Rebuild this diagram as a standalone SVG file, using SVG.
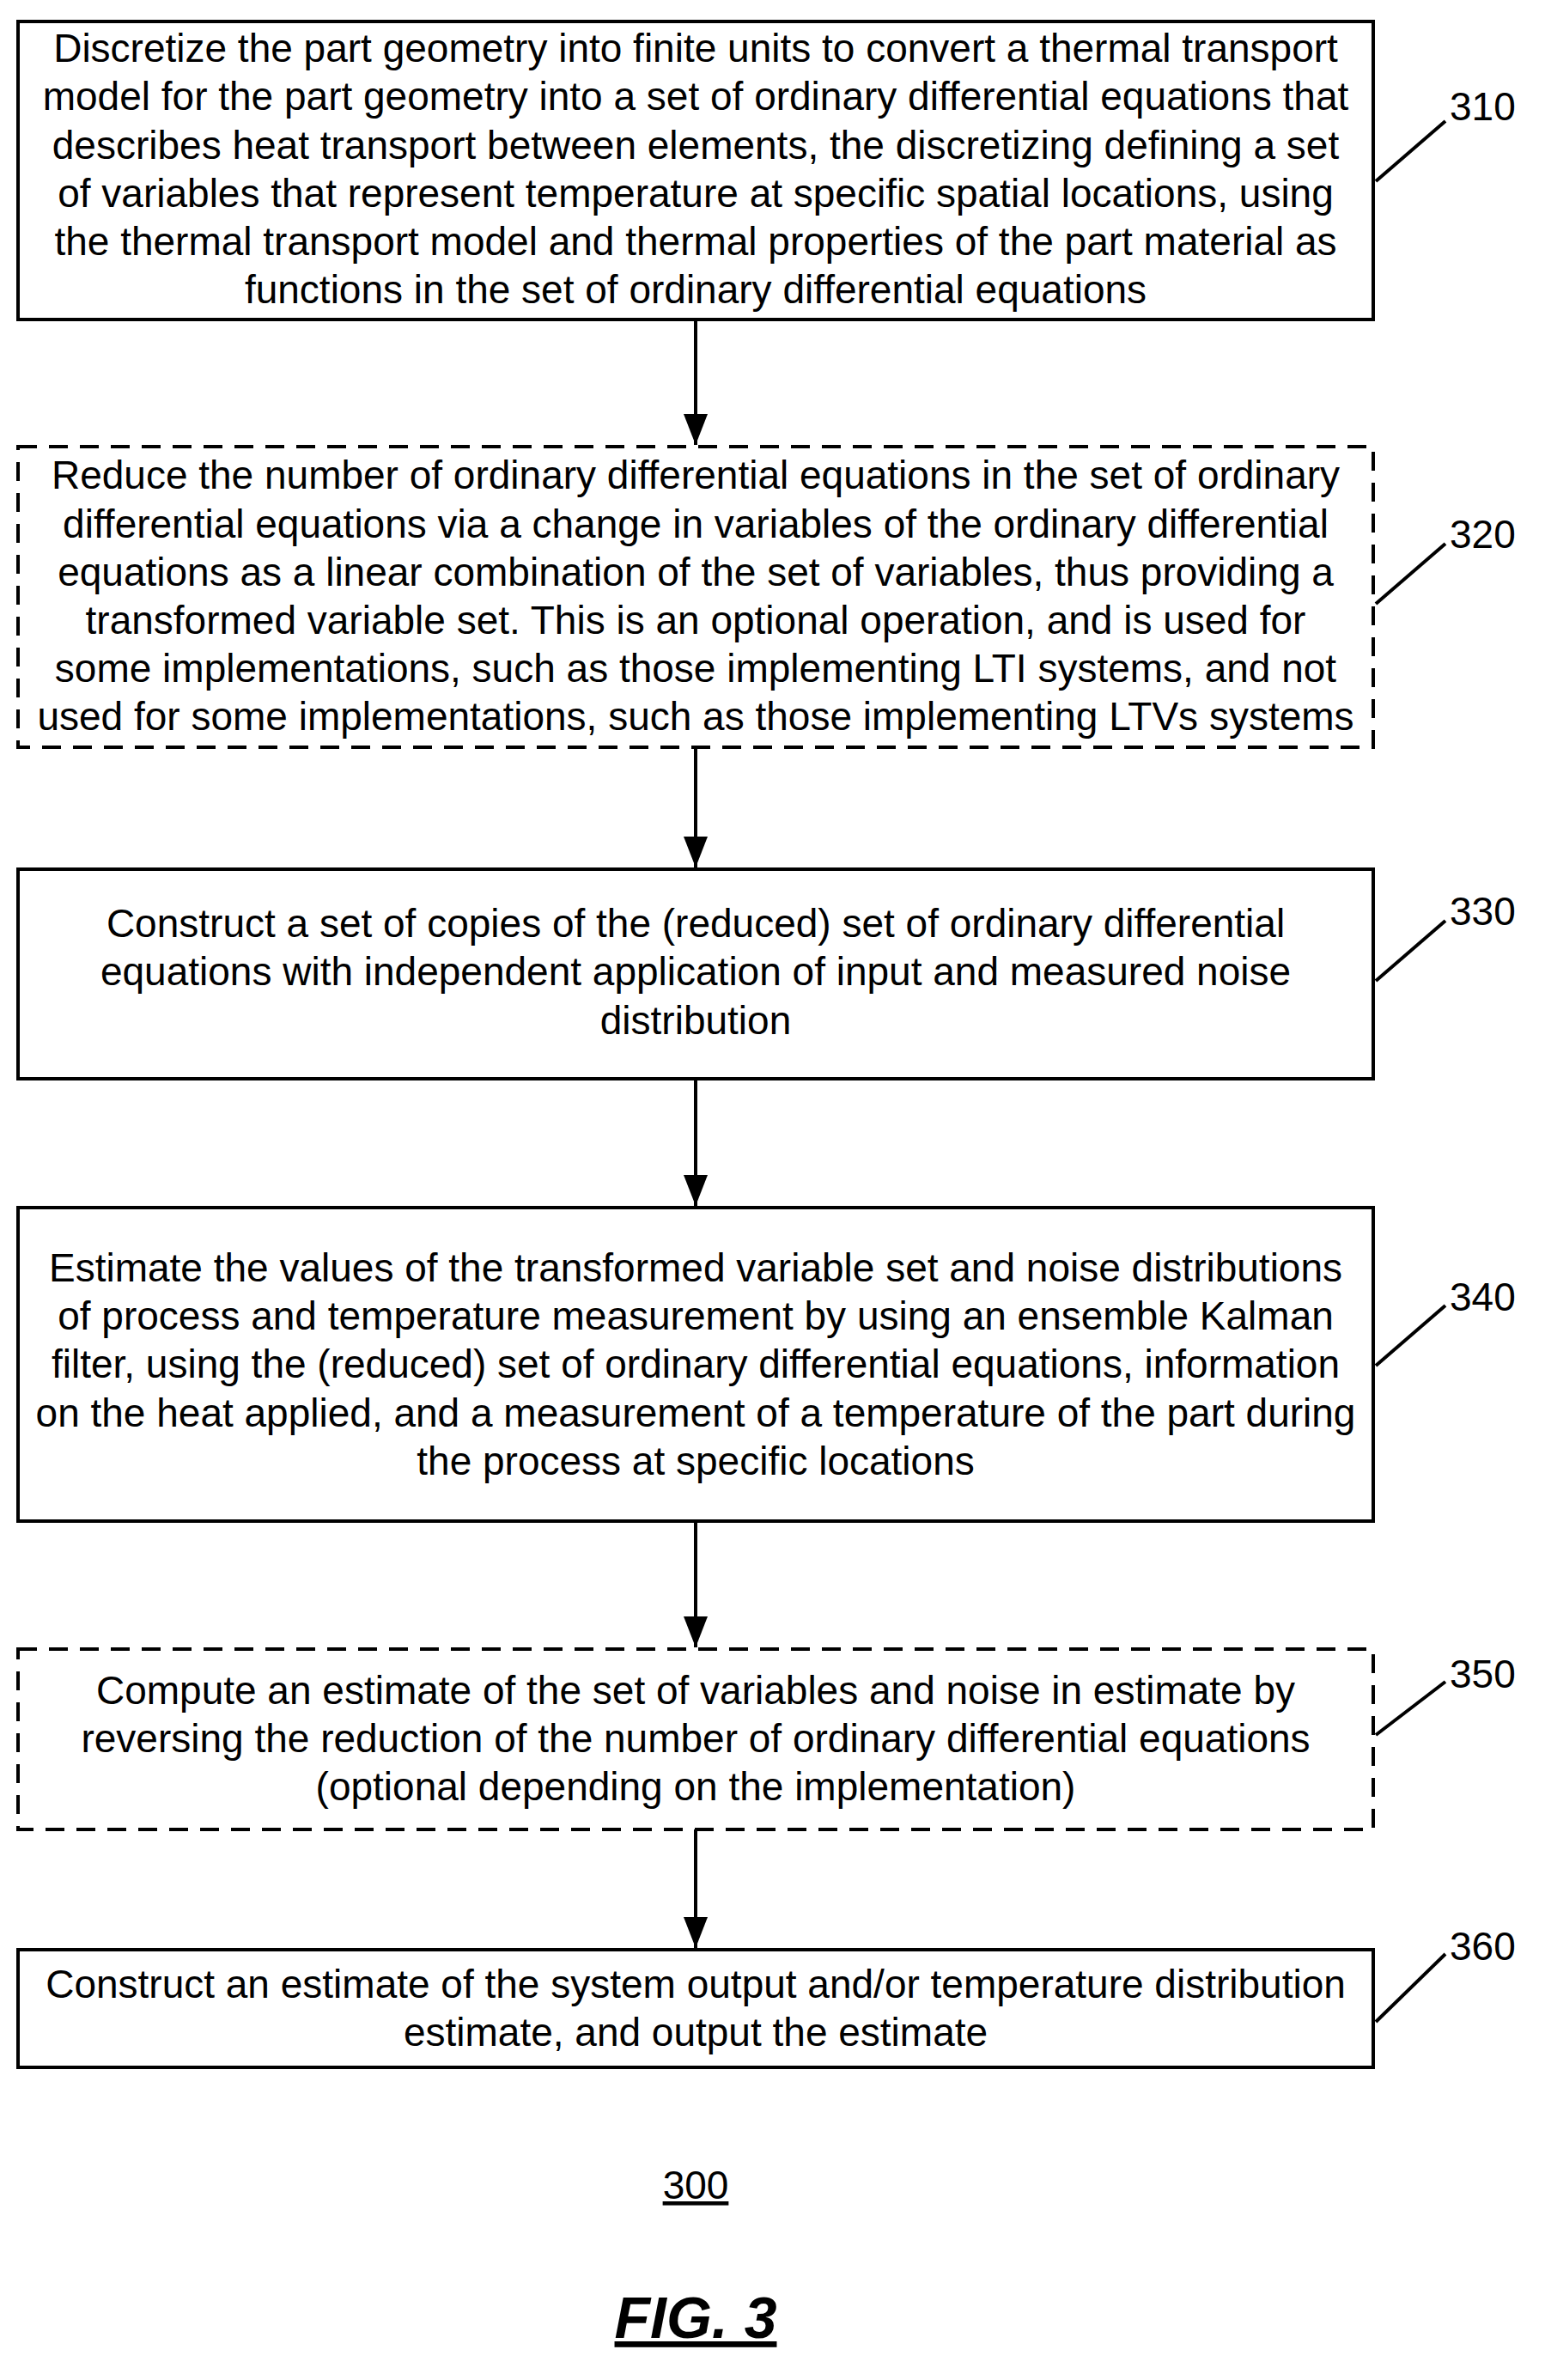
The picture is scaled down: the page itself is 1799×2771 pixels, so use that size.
<svg xmlns="http://www.w3.org/2000/svg" width="1799" height="2771" viewBox="0 0 1799 2771">
<defs>
<marker id="ah" viewBox="0 0 36 28" refX="36" refY="14" markerWidth="36" markerHeight="28" markerUnits="userSpaceOnUse" orient="auto"><path d="M0,0 L36,14 L0,28 Z" fill="#000"/></marker>
<style>
.b{fill:#fff;stroke:#000;stroke-width:4}
.d{stroke-dasharray:22,14}
text{font-family:"Liberation Sans",Arial,sans-serif;font-size:46px;fill:#000}
.t{text-anchor:middle}
.c{stroke:#000;stroke-width:4;fill:none}
</style>
</defs>
<rect width="1799" height="2771" fill="#fff"/>
<g id="connectors">
<line class="c" x1="810" y1="372" x2="810" y2="518" marker-end="url(#ah)"/>
<line class="c" x1="810" y1="870" x2="810" y2="1010" marker-end="url(#ah)"/>
<line class="c" x1="810" y1="1256" x2="810" y2="1404" marker-end="url(#ah)"/>
<line class="c" x1="810" y1="1771" x2="810" y2="1918" marker-end="url(#ah)"/>
<line class="c" x1="810" y1="2130" x2="810" y2="2268" marker-end="url(#ah)"/>
</g>
<g id="n310">
<rect class="b" x="21" y="25" width="1578" height="347"/>
<text class="t" x="810" y="72">Discretize the part geometry into finite units to convert a thermal transport</text>
<text class="t" x="810" y="128">model for the part geometry into a set of ordinary differential equations that</text>
<text class="t" x="810" y="185">describes heat transport between elements, the discretizing defining a set</text>
<text class="t" x="810" y="241">of variables that represent temperature at specific spatial locations, using</text>
<text class="t" x="810" y="297">the thermal transport model and thermal properties of the part material as</text>
<text class="t" x="810" y="353">functions in the set of ordinary differential equations</text>
<line class="c" x1="1602" y1="211" x2="1683" y2="141"/>
<text x="1688" y="140">310</text>
</g>
<g id="n320">
<rect class="b d" x="21" y="520" width="1578" height="350"/>
<text class="t" x="810" y="569">Reduce the number of ordinary differential equations in the set of ordinary</text>
<text class="t" x="810" y="626">differential equations via a change in variables of the ordinary differential</text>
<text class="t" x="810" y="682">equations as a linear combination of the set of variables, thus providing a</text>
<text class="t" x="810" y="738">transformed variable set. This is an optional operation, and is used for</text>
<text class="t" x="810" y="794">some implementations, such as those implementing LTI systems, and not</text>
<text class="t" x="810" y="850">used for some implementations, such as those implementing LTVs systems</text>
<line class="c" x1="1602" y1="703" x2="1683" y2="633"/>
<text x="1688" y="638">320</text>
</g>
<g id="n330">
<rect class="b" x="21" y="1012" width="1578" height="244"/>
<text class="t" x="810" y="1091">Construct a set of copies of the (reduced) set of ordinary differential</text>
<text class="t" x="810" y="1147">equations with independent application of input and measured noise</text>
<text class="t" x="810" y="1204">distribution</text>
<line class="c" x1="1602" y1="1142" x2="1683" y2="1072"/>
<text x="1688" y="1077">330</text>
</g>
<g id="n340">
<rect class="b" x="21" y="1406" width="1578" height="365"/>
<text class="t" x="810" y="1492">Estimate the values of the transformed variable set and noise distributions</text>
<text class="t" x="810" y="1548">of process and temperature measurement by using an ensemble Kalman</text>
<text class="t" x="810" y="1604">filter, using the (reduced) set of ordinary differential equations, information</text>
<text class="t" x="810" y="1661">on the heat applied, and a measurement of a temperature of the part during</text>
<text class="t" x="810" y="1717">the process at specific locations</text>
<line class="c" x1="1602" y1="1590" x2="1683" y2="1520"/>
<text x="1688" y="1526">340</text>
</g>
<g id="n350">
<rect class="b d" x="21" y="1920" width="1578" height="210"/>
<text class="t" x="810" y="1984">Compute an estimate of the set of variables and noise in estimate by</text>
<text class="t" x="810" y="2040">reversing the reduction of the number of ordinary differential equations</text>
<text class="t" x="810" y="2096">(optional depending on the implementation)</text>
<line class="c" x1="1602" y1="2020" x2="1683" y2="1958"/>
<text x="1688" y="1965">350</text>
</g>
<g id="n360">
<rect class="b" x="21" y="2270" width="1578" height="137"/>
<text class="t" x="810" y="2326">Construct an estimate of the system output and/or temperature distribution</text>
<text class="t" x="810" y="2382">estimate, and output the estimate</text>
<line class="c" x1="1602" y1="2354" x2="1683" y2="2275"/>
<text x="1688" y="2282">360</text>
</g>
<g id="caption">
<text class="t" x="810" y="2560" text-decoration="underline">300</text>
<text class="t" x="810" y="2722" style="font-size:68px;font-weight:bold;font-style:italic" text-decoration="underline">FIG. 3</text>
</g>
</svg>
